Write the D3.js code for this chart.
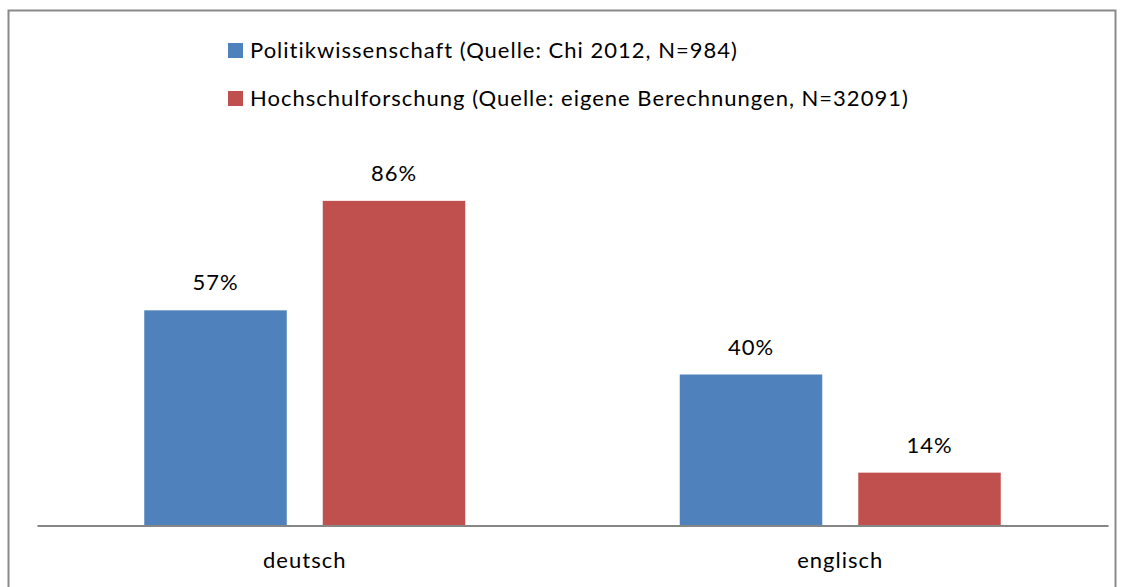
<!DOCTYPE html>
<html><head><meta charset="utf-8">
<script src="https://cdn.jsdelivr.net/npm/d3@7"></script>
<style>body{margin:0;background:#fff}svg{display:block}text{font-family:Lato,"Open Sans",sans-serif;fill:#000;letter-spacing:1px;font-variant-ligatures:none}</style>
</head><body>
<svg id="c" width="1124" height="587"></svg>
<script>
const categories = ["deutsch", "englisch"];
const seriesNames = ["Politikwissenschaft (Quelle: Chi 2012, N=984)", "Hochschulforschung (Quelle: eigene Berechnungen, N=32091)"];
const politik = [57, 40];
const hochschul = [86, 14];
const colors = ["#4F81BD", "#C0504D"];

const FS = 22;
const svg = d3.select("#c");
svg.append("rect").attr("x", 8.5).attr("y", 10.5).attr("width", 1107).attr("height", 590)
  .attr("fill", "#fff").attr("stroke", "#8a8a8a").attr("stroke-width", 2);

const left = 37, right = 1108, base = 525.5;
const x0 = d3.scaleBand().domain(categories).range([left, right]).paddingInner(0).paddingOuter(0);
const y = d3.scaleLinear().domain([0, 100]).range([base, 148]);
const barW = 142.5, gap = 36;
const series = [politik, hochschul];

series.forEach((vals, si) => {
  const g = svg.append("g");
  categories.forEach((c, ci) => {
    const cx = x0(c) + x0.bandwidth() / 2;
    const bx = si === 0 ? cx - gap / 2 - barW : cx + gap / 2;
    g.append("rect").attr("x", bx).attr("y", y(vals[ci])).attr("width", barW)
      .attr("height", base - y(vals[ci])).attr("fill", colors[si]);
    g.append("text").attr("x", bx + barW / 2).attr("y", y(vals[ci]) - 20)
      .attr("text-anchor", "middle").attr("font-size", FS).text(vals[ci] + "%");
  });
});

const xAxis = d3.axisBottom(x0).tickSize(0).tickPadding(27);
const ax = svg.append("g").attr("transform", `translate(0,${base})`).call(xAxis);
ax.select(".domain").attr("stroke", "#868686").attr("stroke-width", 2);
ax.selectAll("text").attr("font-size", FS).attr("fill", "#000")
  .attr("font-family", 'Lato,"Open Sans",sans-serif').attr("dy", "0.71em");

const legY = [50, 98];
seriesNames.forEach((n, i) => {
  svg.append("rect").attr("x", 228).attr("y", legY[i] - 7).attr("width", 15).attr("height", 15).attr("fill", colors[i]);
  svg.append("text").attr("x", 250).attr("y", legY[i]).attr("dy", "0.35em").attr("font-size", FS).text(n);
});
</script>
</body></html>
